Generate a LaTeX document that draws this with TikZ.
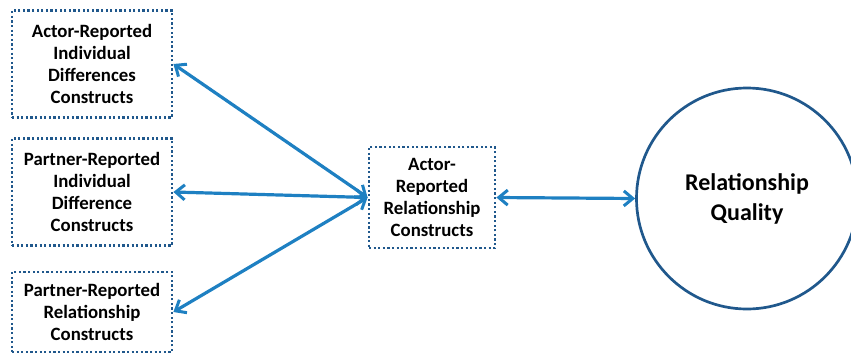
\documentclass[tikz,border=0pt]{standalone}
\usepackage{fontspec}
\setmainfont{Carlito}
\usetikzlibrary{positioning, shapes.geometric, arrows.meta}
\definecolor{arrowblue}{RGB}{30,128,194}
\definecolor{boxblue}{RGB}{32,88,140}
\tikzstyle{construct} = [rectangle, draw=boxblue, line width=2.8pt, dash pattern=on 2.2pt off 2.4pt, minimum width=160pt, align=center, font=\bfseries\fontsize{18.8}{22}\selectfont]
\tikzstyle{outcome} = [circle, draw=boxblue, line width=2.7pt, minimum size=221pt, align=center, font=\bfseries\fontsize{24}{30}\selectfont]
\tikzstyle{arrow} = [draw=arrowblue, line width=3.2pt, <->, >={Straight Barb[length=9pt,width=15pt,line width=3pt]}]

\begin{document}
\begin{tikzpicture}[x=1pt, y=-1pt, node distance=128pt]
			\useasboundingbox (0,0) rectangle (851,356);
			%定义具体形状
			\node (actorind) [construct, minimum height=107pt] at (92,64) {Actor-Reported\\Individual\\Differences\\Constructs};
			\node (partind) [construct, minimum height=107pt, below of=actorind] {Partner-Reported\\Individual\\Difference\\Constructs};
			\node (partrel) [construct, minimum height=80pt] at (92,312) {Partner-Reported\\Relationship\\Constructs};
			\node (actorrel) [construct, minimum width=126pt, minimum height=101pt] at (432,197.5) {Actor-\\Reported\\Relationship\\Constructs};
			\node (quality) [outcome] at (747,198.5) {Relationship\\Quality};
			%连接具体形状
			\draw [arrow](actorind.east) -- (actorrel.west);
			\draw [arrow](partind.east) -- (actorrel.west);
			\draw [arrow](partrel.east) -- (actorrel.west);
			\draw [arrow](actorrel.east) -- (quality.west);
		\end{tikzpicture}
\end{document}
